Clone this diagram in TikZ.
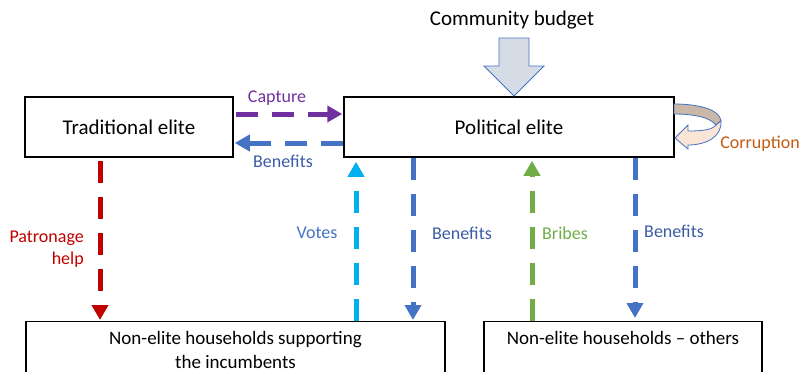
\documentclass[tikz,border=0pt]{standalone}
\usepackage{fontspec}
\setmainfont{Carlito}
\usetikzlibrary{arrows.meta}

\definecolor{capturepurple}{HTML}{7030A0}
\definecolor{benefitblue}{HTML}{4472C4}
\definecolor{benefittext}{HTML}{3B5BA5}
\definecolor{patronred}{HTML}{C00000}
\definecolor{voteblue}{HTML}{00B0F0}
\definecolor{bribegreen}{HTML}{70AD47}
\definecolor{corrupttext}{HTML}{C55A11}
\definecolor{budgetfill}{HTML}{D6DCE5}
\definecolor{ribbonback}{HTML}{C9B7A7}
\definecolor{ribbonfront}{HTML}{FBE5D6}

\tikzset{
  elite/.style={draw, line width=1.5pt, minimum height=60pt, inner sep=0pt,
    font=\fontsize{21}{25}\selectfont},
  household/.style={draw, line width=1.2pt, anchor=north, minimum height=57pt,
    align=center, font=\fontsize{19}{24}\selectfont},
  flow/.style={line width=5pt, dash pattern=on 22pt off 14pt,
    -{Triangle[length=15pt,width=16pt]}},
  flowlabel/.style={font=\fontsize{18}{22}\selectfont, inner sep=0pt},
}

\begin{document}
\begin{tikzpicture}[x=1pt,y=-1pt]
        \useasboundingbox (0,0) rectangle (803,372);

        % boxes
        \node[elite, minimum width=208pt] (trad) at (129,127) {Traditional elite};
        \node[elite, minimum width=330pt] (pol) at (509,127) {Political elite};
        \node[household, minimum width=419pt] (supp) at (235.5,321)
            {Non-elite households supporting\\the incumbents};
        \node[household, minimum width=278pt] (others) at (623,321)
            {Non-elite households -- others\\\mbox{}};

        % community budget
        \node[font=\fontsize{21}{25}\selectfont] (budget) at (512,20) {Community budget};
        \draw[benefitblue, line width=0.9pt, fill=budgetfill, line join=miter]
            (499,38) -- (529,38) -- (529,66) -- (544,66) -- (514,96)
            -- (484,66) -- (499,66) -- cycle;

        % corruption loop
        \draw[benefitblue, line width=0.8pt, fill=ribbonback]
            (674,104) .. controls (700,104) and (720,110) .. (721,121)
            -- (716,125) .. controls (710,117) and (692,114) .. (674,114) -- cycle;
        \draw[benefitblue, line width=0.8pt, fill=ribbonfront, line join=miter]
            (721,121) .. controls (722,137) and (706,145) .. (688,145)
            -- (688,149) -- (675,138) -- (688,125) -- (688,131)
            .. controls (702,131) and (712,130) .. (716,125) -- cycle;
        \node[flowlabel, text=corrupttext] (corr) at (760,144) {Corruption};

        % x positions of the vertical flows
        \coordinate (patx) at (100,0);
        \coordinate (votex) at (356,0);
        \coordinate (benax) at (413,0);
        \coordinate (bribex) at (532,0);
        \coordinate (benbx) at (635,0);

        % flows between the elites
        \draw[flow, capturepurple, shorten <=2pt, shorten >=1pt]
            ([yshift=13pt]trad.east) -- ([yshift=13pt]pol.west);
        \draw[flow, benefitblue, shorten >=1pt]
            ([yshift=-16pt]pol.west) -- ([yshift=-16pt]trad.east);
        \node[flowlabel, text=capturepurple] at (277,98) {Capture};
        \node[flowlabel, text=benefittext] at (283,161) {Benefits};

        % flows to and from the households
        \draw[flow, patronred, shorten <=3pt, shorten >=1pt]
            (trad.south -| patx) -- (supp.north -| patx);
        \draw[flow, voteblue, shorten >=4pt]
            (supp.north -| votex) -- (pol.south -| votex);
        \draw[flow, benefitblue, shorten >=1pt]
            (pol.south -| benax) -- (supp.north -| benax);
        \draw[flow, bribegreen, shorten >=3pt]
            (others.north -| bribex) -- (pol.south -| bribex);
        \draw[flow, benefitblue, shorten >=3pt]
            (pol.south -| benbx) -- (others.north -| benbx);

        \node[flowlabel, text=patronred, align=right, anchor=east] at (84,249)
            {Patronage\\help};
        \node[flowlabel, text=benefitblue] at (317,233) {Votes};
        \node[flowlabel, text=benefittext] at (462,233) {Benefits};
        \node[flowlabel, text=bribegreen] at (565,233) {Bribes};
        \node[flowlabel, text=benefittext] at (674,231) {Benefits};
    \end{tikzpicture}
\end{document}
